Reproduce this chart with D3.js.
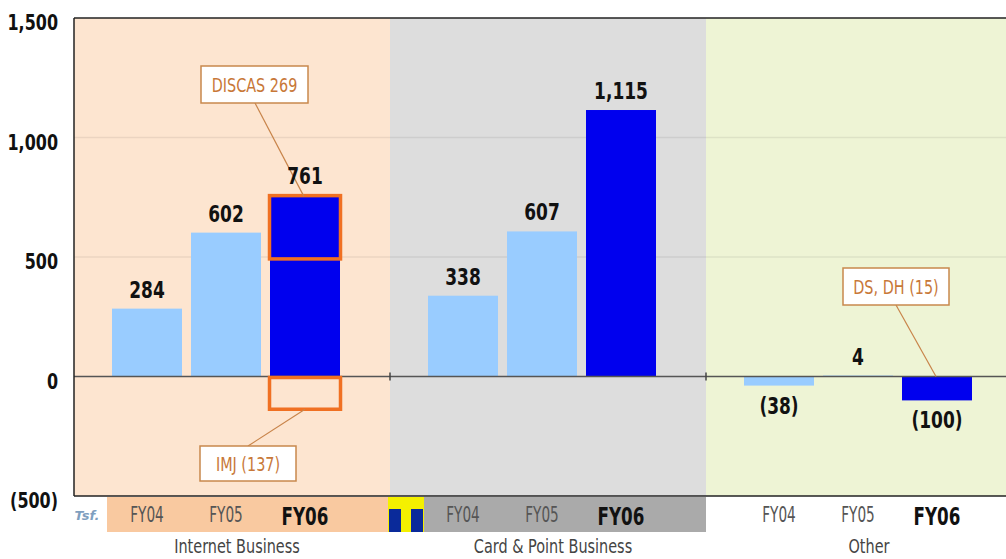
<!DOCTYPE html>
<html>
<head>
<meta charset="utf-8">
<script src="https://cdn.jsdelivr.net/npm/d3@7"></script>
<style>
  html, body { margin: 0; padding: 0; background: #fff; }
  svg { display: block; }
  text { font-family: "DejaVu Sans", sans-serif; }
</style>
</head>
<body>
<svg id="chart" width="1006" height="559"></svg>
<script>
// Operating income by business segment (JPY m)
const segments = ["Internet Business", "Card & Point Business", "Other"];
const years = ["FY04", "FY05", "FY06"];
const internetValues = [284, 602, 761];
const cardPointValues = [338, 607, 1115];
const otherValues = [-38, 4, -100];
const yTicks = [-500, 0, 500, 1000, 1500];

// Breakdown call-outs: segment, year, base value, amount, caption
const calloutSegments = ["Internet Business", "Internet Business", "Other"];
const calloutYears = ["FY06", "FY06", "FY06"];
const calloutBases = [761, 0, -100];
const calloutAmounts = [-269, -137, 0];
const calloutTexts = ["DISCAS  269", "IMJ  (137)", "DS, DH  (15)"];

const seriesBySegment = [internetValues, cardPointValues, otherValues];
const bars = [];
segments.forEach((s, i) => years.forEach((yr, j) => bars.push({ seg: s, year: yr, value: seriesBySegment[i][j] })));

const svg = d3.select("#chart");
const plotLeft = 74, plotRight = 1006, plotTop = 18, plotBottom = 496;

const y = d3.scaleLinear().domain([-500, 1500]).range([plotBottom, plotTop]);
const xSeg = d3.scaleBand().domain(segments).range([plotLeft, plotLeft + 3 * 316]);
const xYear = d3.scaleBand().domain(years).range([38, 266]).paddingInner(0.114).paddingOuter(0);

const panelFill = { "Internet Business": "#fde5d0", "Card & Point Business": "#dddddd", "Other": "#eef4d5" };
const bandFill = { "Internet Business": "#f9c9a0", "Card & Point Business": "#aaaaaa", "Other": null };
const barColor = yr => yr === "FY06" ? "#0000ee" : "#99ccff";

const fmt = d3.format(",");
const label = v => v < 0 ? `(${fmt(-v)})` : fmt(v);

// Narrow the glyphs horizontally to get a tall condensed look
function condense(sel, k) {
  sel.each(function () {
    const w = this.getComputedTextLength();
    d3.select(this).attr("textLength", w * k).attr("lengthAdjust", "spacingAndGlyphs");
  });
}

// Panels
const defs = svg.append("defs");
defs.append("clipPath").attr("id", "plotClip")
  .append("rect").attr("x", plotLeft).attr("y", 0).attr("width", plotRight - plotLeft).attr("height", 559);

const plot = svg.append("g").attr("clip-path", "url(#plotClip)");

plot.selectAll("rect.panel").data(segments).join("rect")
  .attr("class", "panel")
  .attr("x", d => xSeg(d)).attr("y", plotTop)
  .attr("width", xSeg.bandwidth()).attr("height", plotBottom - plotTop)
  .attr("fill", d => panelFill[d]);

// Gridlines
plot.selectAll("line.grid").data([500, 1000]).join("line")
  .attr("class", "grid")
  .attr("x1", plotLeft).attr("x2", plotRight)
  .attr("y1", d => y(d)).attr("y2", d => y(d))
  .attr("stroke", "#000").attr("stroke-opacity", 0.07).attr("stroke-width", 1.5);

// Bars
plot.selectAll("rect.bar").data(bars).join("rect")
  .attr("class", "bar")
  .attr("x", d => xSeg(d.seg) + xYear(d.year))
  .attr("width", xYear.bandwidth())
  .attr("y", d => y(Math.max(0, d.value)))
  .attr("height", d => Math.abs(y(d.value) - y(0)))
  .attr("fill", d => barColor(d.year));

// Zero line and segment ticks
plot.append("line")
  .attr("x1", plotLeft).attr("x2", plotRight).attr("y1", y(0)).attr("y2", y(0))
  .attr("stroke", "#555").attr("stroke-width", 1.6);
plot.selectAll("line.segtick").data(segments.slice(1)).join("line")
  .attr("class", "segtick")
  .attr("x1", d => xSeg(d)).attr("x2", d => xSeg(d))
  .attr("y1", y(0) - 4).attr("y2", y(0) + 4)
  .attr("stroke", "#444").attr("stroke-width", 1.5);

// Call-out highlight boxes
const callouts = calloutTexts.map((t, i) => ({
  seg: calloutSegments[i], year: calloutYears[i], base: calloutBases[i], amount: calloutAmounts[i], text: t
}));
callouts.forEach(c => {
  const bx = xSeg(c.seg) + xYear(c.year);
  const bw = xYear.bandwidth();
  const y0 = y(c.base), y1 = y(c.base + c.amount);
  if (c.amount !== 0) {
    svg.append("rect")
      .attr("x", bx - 0.5).attr("y", Math.min(y0, y1) + 1)
      .attr("width", bw + 1).attr("height", Math.abs(y1 - y0) - 1)
      .attr("fill", "none").attr("stroke", "#f07022").attr("stroke-width", 3.5);
  }
});

// Caption boxes with leader lines (positions in chart pixels)
const capBoxes = [
  { x: 201, y: 66, w: 107, h: 37, lx1: 255, ly1: 103, lx2: 304, ly2: y(761) + 2 },
  { x: 200, y: 446, w: 96, h: 35, lx1: 248, ly1: 446, lx2: 305, ly2: y(-137) },
  { x: 843, y: 268, w: 106, h: 37, lx1: 896, ly1: 305, lx2: 936, ly2: y(0) }
];
capBoxes.forEach((b, i) => {
  svg.append("line")
    .attr("x1", b.lx1).attr("y1", b.ly1).attr("x2", b.lx2).attr("y2", b.ly2)
    .attr("stroke", "#c8844a").attr("stroke-width", 1.2);
  svg.append("rect")
    .attr("x", b.x).attr("y", b.y).attr("width", b.w).attr("height", b.h)
    .attr("fill", "#fff").attr("stroke", "#c8884c").attr("stroke-width", 1.5);
  svg.append("text")
    .attr("x", b.x + b.w / 2).attr("y", b.y + b.h / 2 + 7.5)
    .attr("text-anchor", "middle").attr("font-size", 20)
    .attr("fill", "#c87838")
    .text(callouts[i].text)
    .call(condense, 0.72);
});

// Value labels
svg.selectAll("text.val").data(bars).join("text")
  .attr("class", "val")
  .attr("x", d => xSeg(d.seg) + xYear(d.year) + xYear.bandwidth() / 2)
  .attr("y", d => d.value >= 0 ? y(d.value) - 11 : y(d.value) + 28)
  .attr("text-anchor", "middle")
  .attr("font-size", 23).attr("font-weight", "bold").attr("fill", "#111")
  .text(d => label(d.value))
  .call(condense, 0.74);

// Frame
svg.append("line").attr("x1", plotLeft).attr("x2", plotRight).attr("y1", plotTop).attr("y2", plotTop)
  .attr("stroke", "#222").attr("stroke-width", 1.5);
svg.append("line").attr("x1", plotLeft).attr("x2", plotRight).attr("y1", plotBottom).attr("y2", plotBottom)
  .attr("stroke", "#222").attr("stroke-width", 1.5);
svg.append("line").attr("x1", plotLeft).attr("x2", plotLeft).attr("y1", plotTop).attr("y2", plotBottom)
  .attr("stroke", "#222").attr("stroke-width", 1.5);

// Y axis labels
svg.selectAll("text.ytick").data(yTicks).join("text")
  .attr("class", "ytick")
  .attr("x", 58).attr("y", d => y(d) + 12)
  .attr("text-anchor", "end")
  .attr("font-size", 21).attr("font-weight", "bold").attr("fill", "#111")
  .text(d => label(d))
  .call(condense, 0.76);

// Category strips
const stripTop = 497, stripH = 35;
const bottomG = svg.append("g").attr("clip-path", "url(#plotClip)");
segments.forEach(s => {
  if (!bandFill[s]) return;
  bottomG.append("rect")
    .attr("x", xSeg(s) + 33).attr("y", stripTop)
    .attr("width", xSeg.bandwidth() - 33 + (s === "Internet Business" ? 1 : 0)).attr("height", stripH)
    .attr("fill", bandFill[s]);
});

// Segment logos
svg.append("text")
  .attr("x", 87).attr("y", 520).attr("text-anchor", "middle")
  .attr("font-size", 13).attr("font-weight", "bold").attr("font-style", "italic")
  .attr("fill", "#7f9fbf").text("Tsf.");
const tx = xSeg("Card & Point Business") - 2;
svg.append("rect").attr("x", tx).attr("y", stripTop).attr("width", 36).attr("height", stripH).attr("fill", "#f4f000");
svg.append("rect").attr("x", tx + 1).attr("y", stripTop + 12).attr("width", 12).attr("height", 23).attr("fill", "#0a2a9a");
svg.append("rect").attr("x", tx + 23).attr("y", stripTop + 12).attr("width", 12).attr("height", 23).attr("fill", "#0a2a9a");

// Year labels
const yearLabels = [];
segments.forEach(s => years.forEach(yr => yearLabels.push({ seg: s, year: yr })));
const yearText = svg.selectAll("text.year").data(yearLabels).join("text")
  .attr("class", "year")
  .attr("x", d => xSeg(d.seg) + xYear(d.year) + xYear.bandwidth() / 2)
  .attr("y", d => d.year === "FY06" ? 525 : 522)
  .attr("text-anchor", "middle")
  .attr("font-size", d => d.year === "FY06" ? 25 : 22)
  .attr("font-weight", d => d.year === "FY06" ? "bold" : "normal")
  .attr("fill", d => d.year === "FY06" ? "#111" : "#555")
  .text(d => d.year);
yearText.filter(d => d.year === "FY06").call(condense, 0.67);
yearText.filter(d => d.year !== "FY06").call(condense, 0.62);

// Segment names
svg.selectAll("text.seg").data(segments).join("text")
  .attr("class", "seg")
  .attr("x", d => xSeg(d) + xSeg.bandwidth() / 2 + 5)
  .attr("y", 553)
  .attr("text-anchor", "middle")
  .attr("font-size", 19).attr("fill", "#444")
  .text(d => d)
  .call(condense, 0.76);
</script>
</body>
</html>
